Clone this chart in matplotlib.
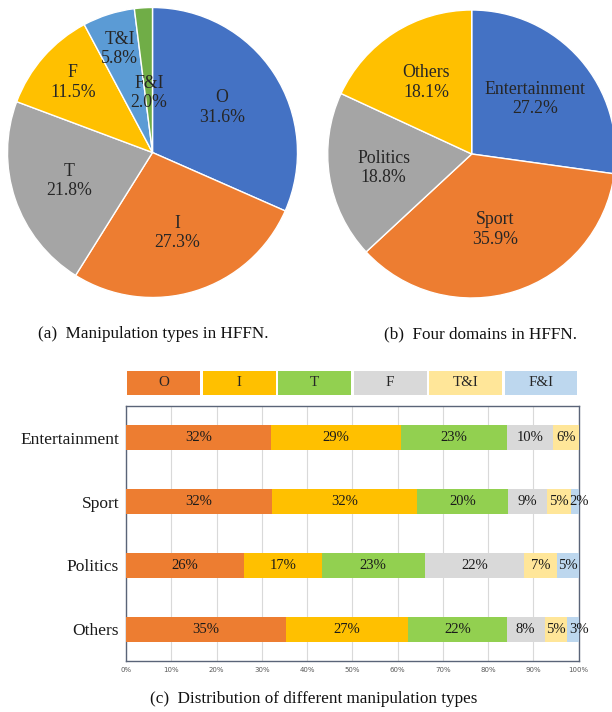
import matplotlib
matplotlib.use("Agg")
import matplotlib.pyplot as plt
import numpy as np

# ---- data ----
types_a = ["O", "I", "T", "F", "T&I", "F&I"]
share_a = [31.6, 27.3, 21.8, 11.5, 5.8, 2.0]

domains_b = ["Entertainment", "Sport", "Politics", "Others"]
share_b = [27.2, 35.9, 18.8, 18.1]

bar_domains = ["Entertainment", "Sport", "Politics", "Others"]
bar_types = ["O", "I", "T", "F", "T&I", "F&I"]
bar_O = [32.0, 32.3, 26.1, 35.3]
bar_I = [28.8, 32.0, 17.1, 27.0]
bar_T = [23.4, 20.0, 22.8, 21.8]
bar_F = [10.2, 8.7, 22.0, 8.4]
bar_TI = [5.6, 5.4, 7.3, 4.9]
bar_FI = [0.0, 1.6, 4.7, 2.6]
x_ticks = [0, 10, 20, 30, 40, 50, 60, 70, 80, 90, 100]

# ---- style ----
W, H = 612, 712
SERIF = ["Liberation Serif", "DejaVu Serif"]
pie_a_colors = ["#4472C4", "#ED7D31", "#A5A5A5", "#FFC000", "#5B9BD5", "#70AD47"]
pie_b_colors = ["#4472C4", "#ED7D31", "#A5A5A5", "#FFC000"]
bar_colors = ["#ED7D31", "#FFC000", "#92D050", "#D9D9D9", "#FFE699", "#BDD7EE"]
label_r_a = [0.57, 0.58, 0.61, 0.73, 0.75, 0.41]
label_r_b = [0.58, 0.55, 0.62, 0.59]

fig = plt.figure(figsize=(W / 100, H / 100), dpi=100)


def px_axes(cx, cy, r):
    return fig.add_axes([(cx - r) / W, 1 - (cy + r) / H, 2 * r / W, 2 * r / H])


def draw_pie(ax, names, vals, colors, radii):
    wedges, _ = ax.pie(vals, colors=colors, startangle=90, counterclock=False,
                       radius=1, wedgeprops=dict(edgecolor="white", linewidth=1.0))
    for w, name, v, rr in zip(wedges, names, vals, radii):
        th = np.deg2rad((w.theta1 + w.theta2) / 2)
        ax.text(rr * np.cos(th), rr * np.sin(th), f"{name}\n{v:.1f}%",
                ha="center", va="center", fontsize=12.8, family=SERIF,
                color="#262626", linespacing=1.2)
    ax.set_xlim(-1.01, 1.01)
    ax.set_ylim(-1.01, 1.01)
    ax.set_aspect("equal")
    ax.axis("off")


ax_a = px_axes(152.5, 152.5, 145 * 1.01)
draw_pie(ax_a, types_a, share_a, pie_a_colors, label_r_a)
ax_b = px_axes(471.7, 154, 144 * 1.01)
draw_pie(ax_b, domains_b, share_b, pie_b_colors, label_r_b)

fig.text(153 / W, 1 - 334 / H, "(a)  Manipulation types in HFFN.", ha="center",
         va="center", fontsize=12.3, family=SERIF, color="#111111")
fig.text(481 / W, 1 - 334 / H, "(b)  Four domains in HFFN.", ha="center",
         va="center", fontsize=12.3, family=SERIF, color="#111111")

# ---- stacked bar ----
left_px, right_px, top_px, bot_px = 126, 578.7, 406, 661
ax_c = fig.add_axes([left_px / W, 1 - bot_px / H, (right_px - left_px) / W,
                     (bot_px - top_px) / H])
series = [bar_O, bar_I, bar_T, bar_F, bar_TI, bar_FI]
y = np.arange(len(bar_domains))
left = np.zeros(len(bar_domains))
for vals, col in zip(series, bar_colors):
    vals = np.array(vals)
    ax_c.barh(y, vals, left=left, height=0.39, color=col, zorder=3)
    for yi, l, v in zip(y, left, vals):
        if v > 0:
            xpos = l + v if v < 3 else l + v / 2
            ax_c.text(xpos, yi, f"{round(v):d}%", ha="center", va="center",
                      fontsize=10.5, family=SERIF, color="#1a1a1a", zorder=4)
    left = left + vals
ax_c.set_xlim(0, 100)
ax_c.set_ylim(3.5, -0.5)
ax_c.set_xticks(x_ticks)
ax_c.set_xticklabels([f"{t}%" for t in x_ticks], fontsize=5, color="#595959")
ax_c.set_yticks(y)
ax_c.set_yticklabels(bar_domains, fontsize=12.5, family=SERIF, color="#1a1a1a")
ax_c.tick_params(axis="both", length=0, pad=4)
ax_c.tick_params(axis="y", pad=5)
ax_c.grid(axis="x", color="#D9D9D9", linewidth=0.8, zorder=0)
for s in ax_c.spines.values():
    s.set_color("#5A6478")
    s.set_linewidth(1.0)

# legend as boxes spanning the axes width
ax_l = fig.add_axes([left_px / W, 1 - 395 / H, (right_px - left_px) / W, 24 / H])
n = len(bar_types)
ax_l.bar(np.arange(n), [1] * n, width=0.966, color=bar_colors, align="center")
for i, name in enumerate(bar_types):
    ax_l.text(i, 0.5, name, ha="center", va="center", fontsize=10.8,
              family=SERIF, color="#262626")
ax_l.set_xlim(-0.5, n - 0.5)
ax_l.set_ylim(0, 1)
ax_l.axis("off")

fig.text(314 / W, 1 - 699 / H, "(c)  Distribution of different manipulation types",
         ha="center", va="center", fontsize=12.3, family=SERIF, color="#111111")

fig.savefig("out.png", dpi=100)
